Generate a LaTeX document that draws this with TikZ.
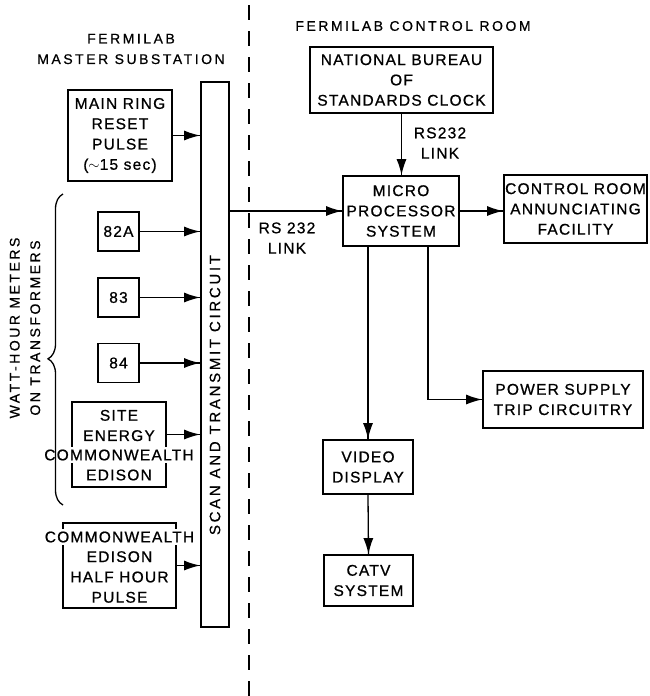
\documentclass[tikz,border=0pt]{standalone}
\usepackage{fontspec}
\setmainfont{Liberation Sans}[LetterSpace=8, FakeBold=0.8]
\newfontfamily\headfont{Liberation Sans}[LetterSpace=18, FakeBold=0.6]
\usetikzlibrary{calc}
\usetikzlibrary{arrows.meta,decorations.markings,decorations.pathreplacing}

\begin{document}
\begin{tikzpicture}[x=1pt, y=-1pt,
	block/.style={draw, line width=1.8pt, inner sep=0pt, align=center, font=\fontsize{15.5}{20.3}\selectfont},
	blank/.style={inner sep=0pt, align=center, font=\fontsize{15.5}{20.3}\selectfont},
	head/.style={inner sep=0pt, align=center, font=\headfont\fontsize{14}{20.5}\selectfont},
	feed/.style={line width=1.3pt, decoration={markings,mark=at position 1 with {\arrow{Latex[length=16pt,width=10pt]}}}, postaction={decorate}}]
			\useasboundingbox (0,0) rectangle (650,696);

			%substation side
			\node[head] (lefthead) at (131,49){FERMILAB\\MASTER SUBSTATION};
			\node[head] (righthead) at (413,26){FERMILAB CONTROL ROOM};

			\node[block, minimum width=28pt, minimum height=545pt] (scan) at (215,354.5){};
			\node[head, font=\headfont\fontsize{15}{20}\selectfont, rotate=90] (scantext) at (215,395){SCAN AND TRANSMIT CIRCUIT};

			\node[block, minimum width=104pt, minimum height=91pt] (reset) at (120,135.5){MAIN RING\\RESET\\PULSE\\($\sim$15 sec)};
			\node[block, minimum width=41pt, minimum height=39pt] (m82a) at (118.5,231.5){82A};
			\node[block, minimum width=41pt, minimum height=39pt] (m83) at (118.5,297.5){83};
			\node[block, minimum width=41pt, minimum height=39pt] (m84) at (118.5,363){84};

			\node[block, minimum width=94pt, minimum height=85pt] (site) at (119,444.5){};
			\node[blank] (site1) at ($(site) + (0,-19)$){SITE\\ENERGY};
			\node[blank, fill=white, inner xsep=1pt, inner ysep=3pt] (site2) at ($(site) + (0,10.5)$){COMMONWEALTH};
			\node[blank] (site3) at ($(site) + (0,30.5)$){EDISON};

			\node[block, minimum width=113pt, minimum height=85pt] (halfhour) at (119.5,565.5){};
			\node[blank, fill=white, inner xsep=1pt, inner ysep=3pt] (half1) at ($(halfhour) + (0,-28.5)$){COMMONWEALTH};
			\node[blank] (half2) at ($(halfhour) + (0,11.5)$){EDISON\\HALF HOUR\\PULSE};

			\draw[line width=1.3pt, decorate, decoration={brace, amplitude=15pt, aspect=0.47}] (63,505) -- (63,194);
			\node[head, rotate=90] (meters) at (25,328){WATT-HOUR METERS\\ON TRANSFORMERS};

			%divider
			\draw[line width=1.8pt, dash pattern=on 15pt off 11pt] (249,5) -- (249,696);

			%control room side
			\node[block, minimum width=183pt, minimum height=66pt] (clock) at (401.5,80){NATIONAL BUREAU\\OF\\STANDARDS CLOCK};
			\node[block, minimum width=116pt, minimum height=70pt] (micro) at (401,211){MICRO\\PROCESSOR\\SYSTEM};
			\node[block, minimum width=143pt, minimum height=68pt] (annunc) at (575.5,209){CONTROL ROOM\\ANNUNCIATING\\FACILITY};
			\node[block, minimum width=160pt, minimum height=57pt] (trip) at (563,399.5){POWER SUPPLY\\TRIP CIRCUITRY};
			\node[block, minimum width=90pt, minimum height=54pt] (video) at (368,467){VIDEO\\DISPLAY};
			\node[block, minimum width=89pt, minimum height=51pt] (catv) at (368.5,580.5){CATV\\SYSTEM};

			\node[blank] (linkclock) at (440,143){RS232\\LINK};
			\node[blank] (linkscan) at (287,238){RS 232\\LINK};

			\draw[feed] (reset.east) -- (reset.east -| scan.west);
			\draw[feed] (m82a.east) -- (m82a.east -| scan.west);
			\draw[feed] (m83.east) -- (m83.east -| scan.west);
			\draw[feed] (m84.east) -- (m84.east -| scan.west);
			\draw[feed] ([yshift=10pt]site.east) -- ([yshift=10pt]site.east -| scan.west);
			\draw[feed] (halfhour.east) -- (halfhour.east -| scan.west);

			\draw[feed] (micro.west -| scan.east) -- (micro.west);
			\draw[feed] (clock.south) -- (clock.south |- micro.north);
			\draw[feed] (micro.east) -- (micro.east -| annunc.west);
			\draw[feed] (video.north |- micro.south) -- (video.north);
			\draw[feed] ([xshift=27pt]micro.south) |- (trip.west);
			\draw[feed] (video.south) -- (catv.north);

		\end{tikzpicture}
\end{document}
